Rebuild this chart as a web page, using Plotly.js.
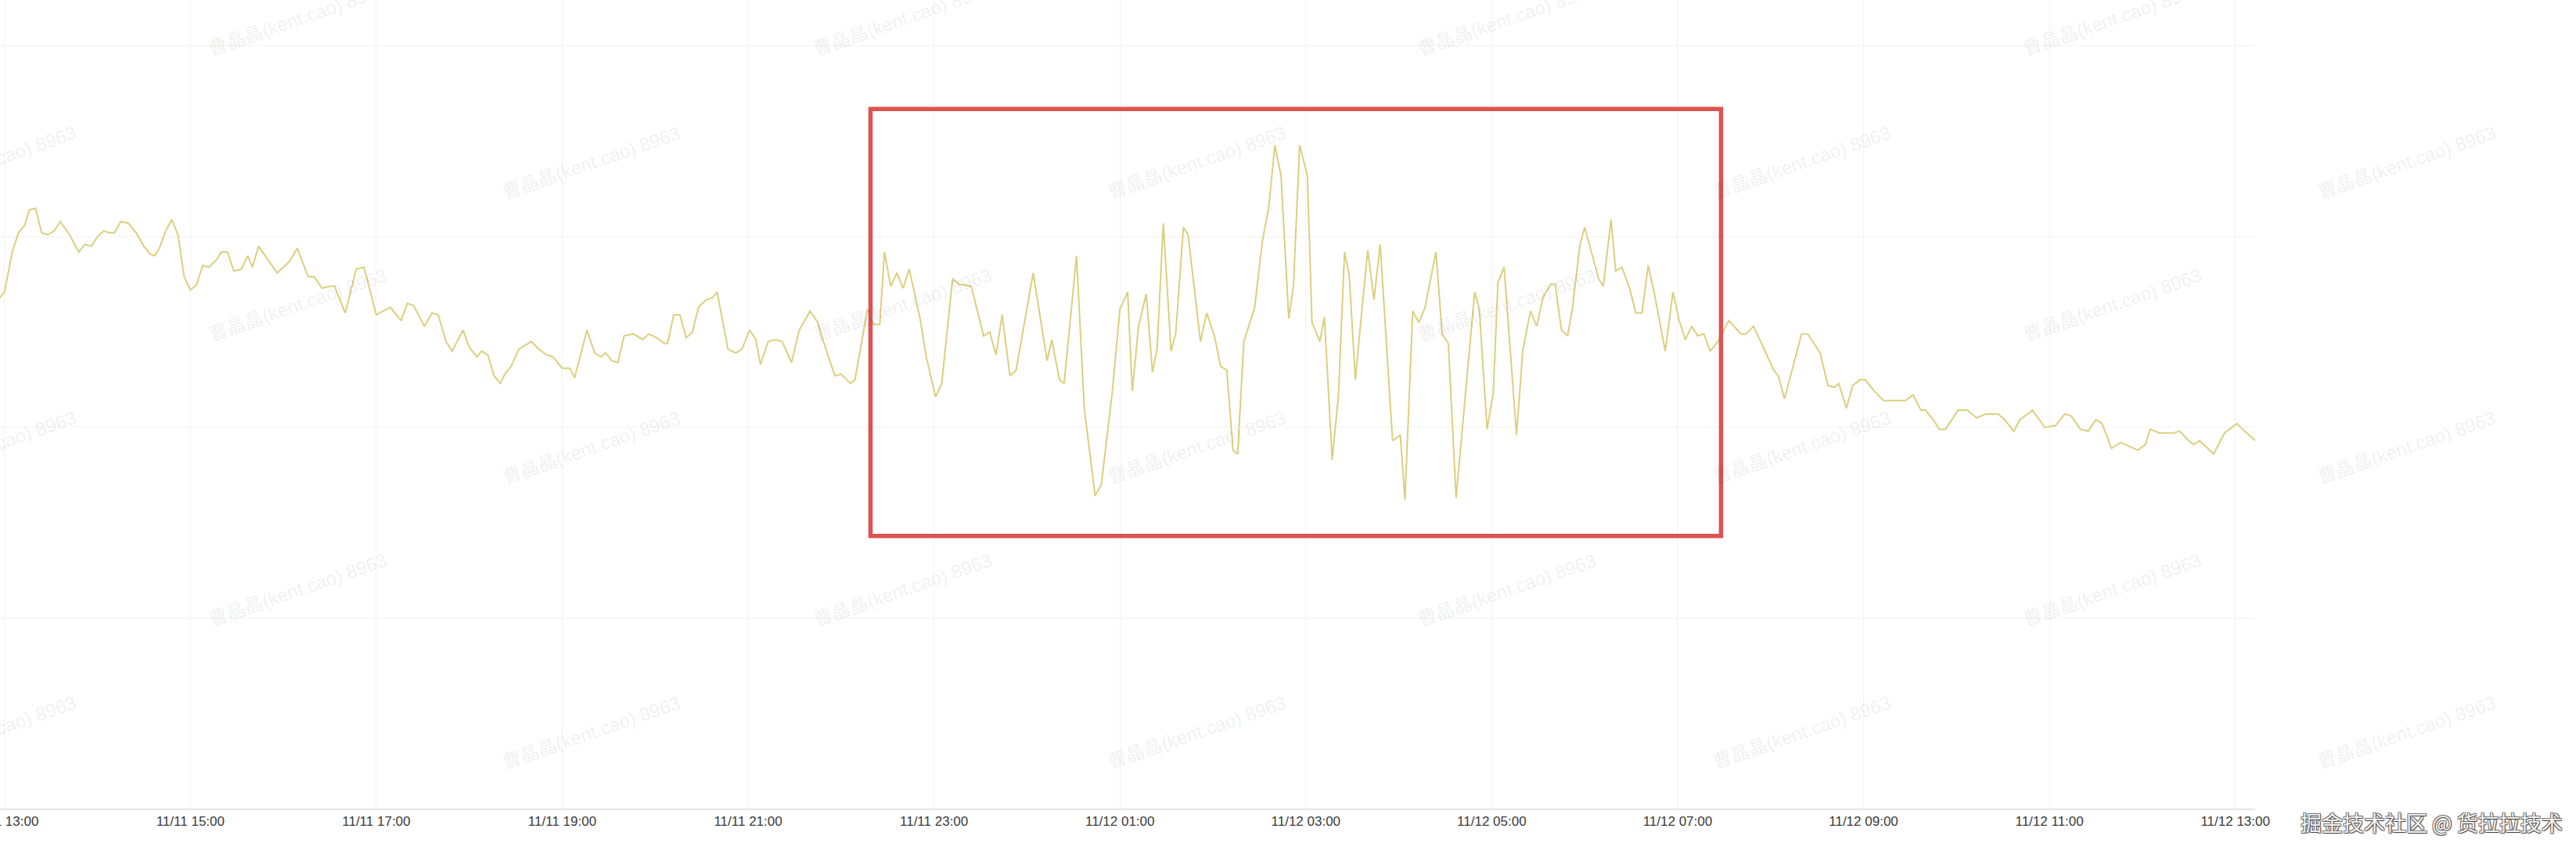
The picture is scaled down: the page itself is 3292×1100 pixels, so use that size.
<!DOCTYPE html>
<html>
<head>
<meta charset="utf-8">
<script src="https://cdn.plot.ly/plotly-3.0.1.min.js"></script>
<style>
  html, body { margin: 0; padding: 0; background: #ffffff; }
  #chart { width: 3292px; height: 1100px; }
</style>
</head>
<body>
<div id="chart"></div>
<script>
// ---- Data ----
// Start of series: 11/11 13:00 ; offsets in minutes
const startTime = Date.UTC(2023, 10, 11, 13, 0, 0);
const minutes = [
  -3, 0, 5, 9, 13, 16, 20, 24, 28, 32, 36, 42, 48, 52, 56, 60, 64, 68, 71, 75,
  80, 85, 90, 94, 97, 100, 104, 108, 112, 116, 120, 124, 128, 132, 137, 140, 144, 148, 153, 157,
  160, 164, 170, 176, 184, 189, 196, 200, 205, 210, 213, 220, 227, 232, 240, 249, 256, 260, 264, 271,
  276, 280, 285, 289, 296, 300, 305, 308, 312, 316, 320, 323, 327, 332, 340, 345, 350, 354, 360, 365,
  368, 372, 376, 381, 385, 388, 392, 396, 400, 406, 412, 416, 421, 426, 428, 432, 436, 440, 444, 448,
  453, 457, 460, 467, 472, 476, 481, 485, 488, 493, 497, 502, 508, 513, 520, 525, 527, 536, 540, 546,
  549, 557, 561, 565, 568, 572, 576, 580, 584, 591, 595, 601, 605, 612, 616, 624, 632, 636, 640, 644,
  649, 653, 664, 673, 676, 681, 684, 692, 697, 704, 708, 715, 720, 725, 728, 732, 737, 741, 744, 748,
  753, 756, 761, 764, 772, 776, 781, 785, 789, 793, 796, 800, 807, 812, 816, 820, 824, 829, 832, 836,
  841, 844, 849, 852, 857, 861, 865, 868, 872, 876, 880, 884, 888, 896, 901, 904, 909, 913, 917, 924,
  928, 932, 937, 949, 952, 957, 961, 964, 968, 976, 980, 985, 989, 993, 998, 1001, 1005, 1009, 1012, 1017,
  1020, 1025, 1029, 1032, 1037, 1040, 1044, 1049, 1053, 1057, 1061, 1065, 1072, 1077, 1081, 1085, 1089, 1093, 1097, 1101,
  1106, 1113, 1121, 1124, 1129, 1137, 1142, 1145, 1149, 1160, 1164, 1172, 1177, 1181, 1184, 1189, 1193, 1198, 1201, 1207,
  1213, 1227, 1232, 1237, 1240, 1245, 1249, 1253, 1261, 1267, 1273, 1279, 1287, 1291, 1297, 1301, 1309, 1317, 1324, 1330,
  1334, 1340, 1345, 1350, 1354, 1360, 1366, 1377, 1382, 1385, 1391, 1400, 1404, 1410, 1413, 1417, 1426, 1433, 1441, 1446,
  1453
];
const values = [
  26.8, 27.1, 29.2, 30.2, 30.6, 31.4, 31.5, 30.2, 30.1, 30.3, 30.8, 30.1, 29.2, 29.6, 29.5, 30.0, 30.3, 30.2, 30.2, 30.8,
  30.7, 30.2, 29.5, 29.1, 29.0, 29.4, 30.3, 30.9, 30.1, 27.9, 27.2, 27.5, 28.5, 28.4, 28.8, 29.2, 29.2, 28.2, 28.3, 29.0,
  28.4, 29.5, 28.8, 28.1, 28.7, 29.4, 27.9, 27.9, 27.3, 27.4, 27.4, 26.0, 28.3, 28.4, 25.9, 26.3, 25.6, 26.5, 26.4, 25.3,
  26.0, 25.9, 24.5, 24.0, 25.1, 24.2, 23.7, 24.0, 23.8, 22.7, 22.3, 22.8, 23.2, 24.1, 24.5, 24.1, 23.8, 23.7, 23.1, 23.1,
  22.6, 23.9, 25.1, 23.9, 23.7, 23.9, 23.5, 23.4, 24.8, 24.9, 24.6, 24.9, 24.7, 24.4, 24.4, 25.9, 25.9, 24.7, 25.0, 26.3,
  26.7, 26.8, 27.1, 24.1, 23.9, 24.1, 25.1, 24.6, 23.3, 24.5, 24.6, 24.5, 23.4, 25.1, 26.1, 25.5, 24.9, 22.7, 22.8, 22.3,
  22.5, 26.2, 25.4, 25.4, 29.2, 27.4, 28.1, 27.3, 28.3, 25.7, 23.7, 21.6, 22.3, 27.8, 27.5, 27.4, 24.8, 25.0, 23.8, 25.9,
  22.7, 23.0, 28.1, 23.5, 24.6, 22.5, 22.3, 29.0, 21.0, 16.4, 17.0, 21.8, 26.2, 27.1, 21.9, 25.3, 27.0, 22.9, 24.1, 30.7,
  24.0, 24.9, 30.5, 30.1, 24.5, 26.0, 24.8, 23.2, 23.0, 18.8, 18.6, 24.5, 26.3, 29.8, 31.5, 34.8, 33.2, 25.7, 27.4, 34.8,
  33.2, 25.5, 24.5, 25.8, 18.3, 21.6, 29.2, 28.0, 22.5, 26.0, 29.3, 26.7, 29.6, 19.3, 19.6, 16.2, 26.1, 25.5, 26.3, 29.2,
  24.9, 24.4, 16.3, 27.1, 26.2, 19.9, 21.8, 27.6, 28.4, 19.6, 24.0, 26.1, 25.3, 26.8, 27.5, 27.5, 25.1, 24.8, 26.2, 29.6,
  30.5, 29.0, 27.8, 27.4, 30.9, 28.2, 28.4, 27.3, 26.0, 26.0, 28.5, 27.0, 24.0, 27.1, 25.6, 24.6, 25.3, 24.8, 24.9, 24.0,
  24.5, 25.6, 24.9, 24.9, 25.3, 23.9, 23.0, 22.7, 21.5, 24.9, 24.9, 23.9, 22.2, 22.1, 22.3, 21.0, 22.2, 22.5, 22.5, 21.9,
  21.4, 21.4, 21.7, 20.9, 20.9, 20.4, 19.9, 19.9, 20.9, 20.9, 20.5, 20.7, 20.7, 20.4, 19.8, 20.4, 20.9, 20.0, 20.1, 20.7,
  20.6, 19.9, 19.8, 20.4, 20.2, 18.9, 19.2, 18.8, 19.1, 19.9, 19.7, 19.7, 19.8, 19.3, 19.1, 19.3, 18.6, 19.7, 20.2, 19.8,
  19.3
];

// Axis window and highlighted window (minutes from start / value units)
const axisStartMin = -2.9;
const axisEndMin = 1452.8;
const highlightStartMin = 559;
const highlightEndMin = 1108;
const highlightLow = 14.3;
const highlightHigh = 36.7;

const watermarkText = '曹晶晶(kent.cao) 8963';
const footerText = '掘金技术社区 @ 货拉拉技术';

function toDateStr(min) {
  const d = new Date(startTime + min * 60000);
  return d.toISOString().replace('T', ' ').replace('Z', '').slice(0, 19);
}

const xDates = minutes.map(toDateStr);

const trace = {
  type: 'scatter',
  mode: 'lines',
  x: xDates,
  y: values,
  line: { color: '#dccf7e', width: 2 },
  hoverinfo: 'skip'
};

// Plot area size in px (for placing watermarks in paper units)
const W = 3292, H = 1100;
const margin = { l: 0, r: 410, t: 0, b: 67 };
const pw = W - margin.l - margin.r;
const ph = H - margin.t - margin.b;

const annotations = [];
for (let r = 0; r < 6; r++) {
  const py = 25 + 182 * r;
  const xs = (r % 2 === 0) ? [380, 1153, 1926, 2699] : [-17, 756, 1529, 2302, 3075];
  xs.forEach(px => {
    annotations.push({
      xref: 'paper', yref: 'paper',
      x: px / pw, y: 1 - py / ph,
      xanchor: 'center', yanchor: 'middle',
      text: watermarkText, showarrow: false,
      textangle: -19,
      font: { family: 'Liberation Sans, Arial, "Noto Sans CJK SC", sans-serif', size: 24, color: 'rgba(0,0,0,0.07)' }
    });
  });
}
annotations.push({
  xref: 'paper', yref: 'paper',
  x: 3107 / pw, y: 1 - 1050 / ph,
  xanchor: 'center', yanchor: 'middle',
  text: footerText, showarrow: false,
  font: { family: '"Noto Sans CJK SC", sans-serif', size: 27, color: '#f4f4f4',
          shadow: '1px 1px 1px #444, -1px -1px 0 #777, 1px -1px 0 #777, -1px 1px 0 #777' }
});

const layout = {
  width: W, height: H,
  margin: margin,
  paper_bgcolor: '#ffffff',
  plot_bgcolor: '#ffffff',
  showlegend: false,
  xaxis: {
    type: 'date',
    range: [toDateStr(axisStartMin), toDateStr(axisEndMin)],
    tick0: toDateStr(0),
    dtick: 2 * 3600 * 1000,
    tickformat: '%m/%d %H:%M',
    ticks: '',
    ticklabeloverflow: 'allow',
    showline: true, linecolor: '#e3e3e3', linewidth: 2,
    showgrid: true, gridcolor: '#f2f2f2', gridwidth: 1,
    zeroline: false,
    tickfont: { family: 'Liberation Sans, Arial, sans-serif', size: 17, color: '#3a3a3a' }
  },
  yaxis: {
    range: [0, 42.42],
    tick0: 0, dtick: 10,
    showticklabels: false,
    ticks: '',
    showgrid: true, gridcolor: '#f2f2f2', gridwidth: 1,
    zeroline: false, showline: false
  },
  shapes: [{
    type: 'rect', xref: 'x', yref: 'y',
    x0: toDateStr(highlightStartMin), x1: toDateStr(highlightEndMin),
    y0: highlightLow, y1: highlightHigh,
    line: { color: '#de5252', width: 5.5 },
    fillcolor: 'rgba(0,0,0,0)'
  }],
  annotations: annotations
};

Plotly.newPlot('chart', [trace], layout, { displayModeBar: false, staticPlot: true });
</script>
</body>
</html>
